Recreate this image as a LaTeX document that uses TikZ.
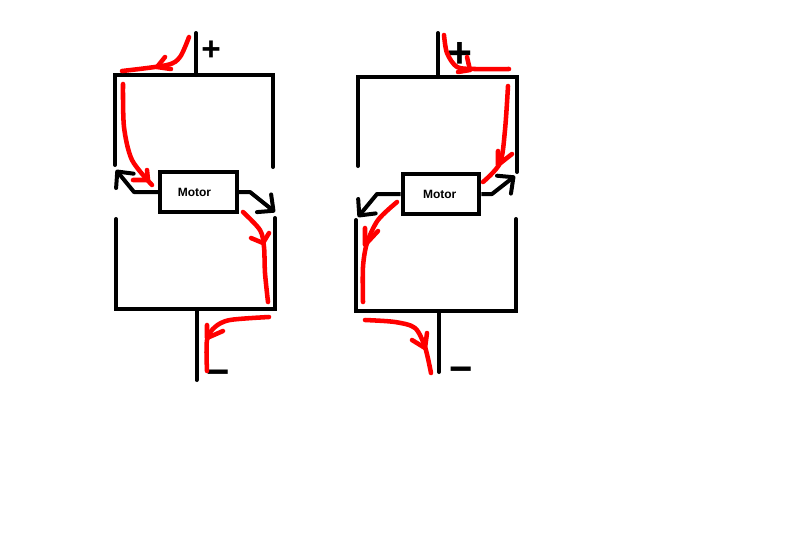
\documentclass[tikz,border=0pt]{standalone}
\usepackage{fontspec}
\setmainfont{Liberation Sans}
\usetikzlibrary{arrows.meta}
\tikzset{
  bus/.style={line width=3pt,line cap=round,line join=miter},
  wire/.style={line width=3pt,line join=round,-{Straight Barb[length=9pt,width=17pt,round]}},
  redline/.style={red,line width=3.4pt,line cap=round,line join=round},
  motorbox/.style={draw,line width=3pt,fill=white,minimum width=57.5pt,minimum height=29.5pt,inner sep=0pt,font=\bfseries\fontsize{9}{9}\selectfont},
  sign/.style={inner sep=0pt,font=\bfseries\fontsize{#1}{#1}\selectfont},
}
\begin{document}
\begin{tikzpicture}[x=0.75pt,y=-0.75pt]
  \useasboundingbox (0,0) rectangle (800,558);
  % left circuit
  \draw[bus] (115,165)--(115,75)--(273,75)--(273,167);
  \draw[bus] (196,33)--(196,75);
  \draw[bus] (116,219)--(116,309)--(275,309)--(275,218);
  \draw[bus] (196.5,309)--(196.5,380);
  \node[motorbox] (motorL) at (198.5,192) {Motor\kern6pt};
  \node[sign=25] (plusL) at (211,51) {+};
  \node[sign=30] (minusL) at (218,378) {−};
  \coordinate (outLa) at (116,170);
  \coordinate (outLb) at (275,212);
  \draw[wire] (motorL.west)--(134,192)--(outLa);
  \draw[wire] (motorL.east)--(250,192)--(outLb);
  % left circuit, current
  \draw[redline] plot[smooth] coordinates {(189,37)(180,57)(167,65)(122,71)};
  \draw[redline] (165,57)--(157,67)--(171,69);
  \draw[redline] plot[smooth] coordinates {(123,84)(124,127)(132,160)(152,185)};
  \draw[redline] (133,180)--(148,180)--(147,170);
  \draw[redline] plot[smooth] coordinates {(243,212)(260,230)(264,247)(265,273)(268,302)};
  \draw[redline] (251,238)--(263,243)--(269,233);
  \draw[redline] plot[smooth] coordinates {(269,317)(230,320)(215,327)(207,340)(207,371)};
  \draw[redline] (207,325)--(207,338)--(223,331);
  % right circuit
  \draw[bus] (358,166)--(358,77)--(517,77)--(517,172);
  \draw[bus] (438,33)--(438,77);
  \draw[bus] (356,220)--(356,311)--(516,311)--(516,219);
  \draw[bus] (439,311)--(439,372);
  \node[motorbox] (motorR) at (441,194) {Motor\kern2pt};
  \node[sign=32] (plusR) at (460,55) {+};
  \node[sign=30] (minusR) at (461,375) {−};
  \coordinate (outRa) at (358,217);
  \coordinate (outRb) at (515,176);
  \draw[wire] (motorR.west)--(377,194)--(outRa);
  \draw[wire] (motorR.east)--(492,194)--(outRb);
  % right circuit, current
  \draw[redline] plot[smooth] coordinates {(444,35)(447,53)(457,67)(475,69)(509,69)};
  \draw[redline] (458,72)--(470,70)--(467,57);
  \draw[redline] plot[smooth] coordinates {(508,86)(505,130)(500,163)(483,182)};
  \draw[redline] (498,151)--(498,165)--(512,154);
  \draw[redline] plot[smooth] coordinates {(397,202)(378,220)(367,243)(363,267)(363,302)};
  \draw[redline] (365,228)--(365,245)--(378,231);
  \draw[redline] plot[smooth] coordinates {(365,320)(395,322)(415,328)(425,347)(431,373)};
  \draw[redline] (427,333)--(425,348)--(412,340);
\end{tikzpicture}
\end{document}
